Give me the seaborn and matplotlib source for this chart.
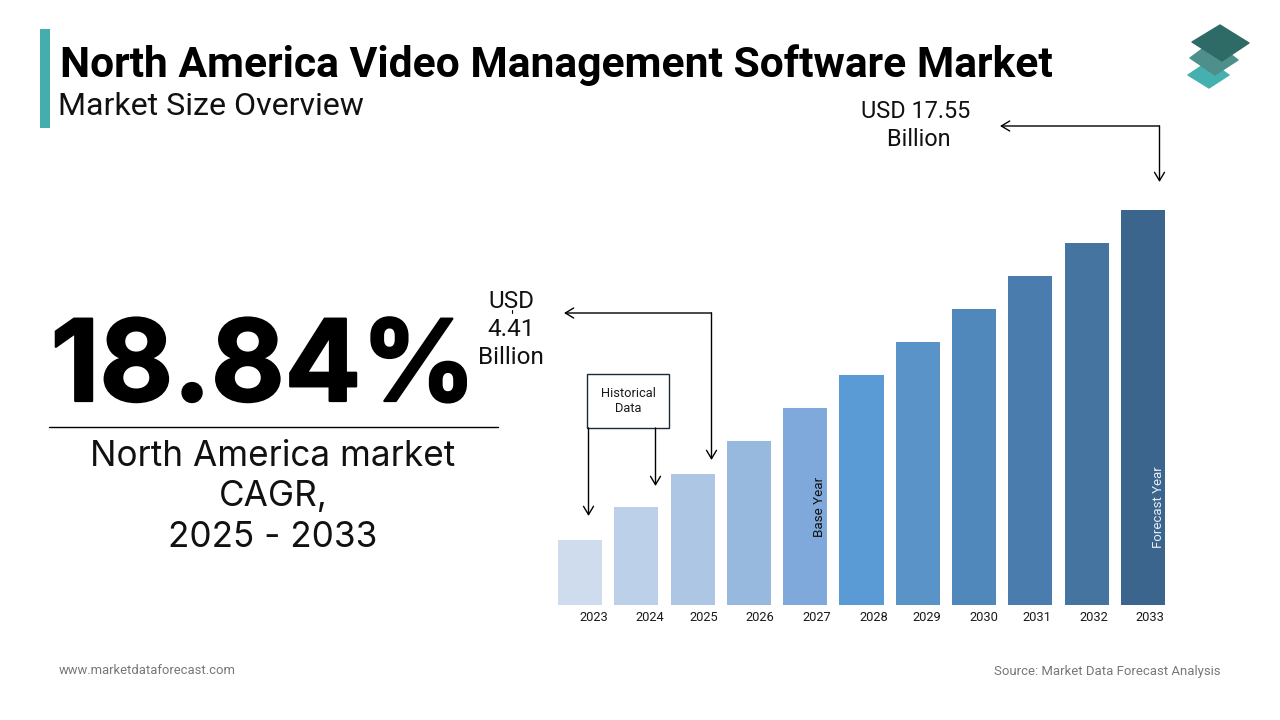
import matplotlib
matplotlib.use("Agg")
import matplotlib.pyplot as plt
import matplotlib.patheffects as pe
from matplotlib.patches import Polygon, Rectangle
from matplotlib.transforms import ScaledTranslation
import pandas as pd
import seaborn as sns

# ---- data ----
years = ["2023", "2024", "2025", "2026", "2027", "2028", "2029", "2030", "2031", "2032", "2033"]
# Bars are schematic in the source, scaled so that 2033 = 17.55
values = [2.89, 4.35, 5.82, 7.29, 8.75, 10.22, 11.69, 13.15, 14.62, 16.08, 17.55]
bar_colors = ["#CFDCEE", "#BDD0E9", "#ADC6E3", "#98B9DE", "#7FA9DA", "#5B9BD5",
              "#5A93C8", "#5088BB", "#4A7DAE", "#44749F", "#3B658D"]
title = "North America Video Management Software Market"
subtitle = "Market Size Overview"
cagr = "18.84%"
cagr_caption = "North America market\nCAGR,\n2025 - 2033"
label_start = "USD\n4.41\nBillion"
label_end = "USD 17.55\n Billion"
label_hist = "Historical\nData"
label_base = "Base Year"
label_forecast = "Forecast Year"
footer_left = "www.marketdataforecast.com"
footer_right = "Source: Market Data Forecast Analysis"
tick_shift_px = [14, 13.5, 11, 11, 12, 12.5, 9, 10, 6.5, 7, 7]

W, H = 1280, 720
sns.set_theme(style="white")
plt.rcParams["font.family"] = ["Roboto", "DejaVu Sans"]
fig = plt.figure(figsize=(W / 100, H / 100), dpi=100, facecolor="white")

# ---- bar axes ----
step = (1143 - 580) / 10
left_px = 580 - step / 2
right_px = 1143 + step / 2
ax = fig.add_axes([left_px / W, (H - 605) / H, (right_px - left_px) / W, 395 / H])
df = pd.DataFrame({"year": years, "value": values})
sns.barplot(data=df, x="year", y="value", hue="year", palette=bar_colors, legend=False,
            width=0.785, saturation=1, linewidth=0, edgecolor="none", ax=ax)
ax.set_xlim(-0.5, 10.5)
ax.set_ylim(0, 17.55)
ax.set_xlabel("")
ax.set_ylabel("")
ax.set_yticks([])
ax.patch.set_alpha(0)
sns.despine(ax=ax, left=True, bottom=True)
ax.tick_params(axis="x", length=0, pad=4, labelsize=9.3, colors="#1a1a1a")
for lab, s in zip(ax.get_xticklabels(), tick_shift_px):
    lab.set_transform(lab.get_transform() + ScaledTranslation(s / 100, 0, fig.dpi_scale_trans))

# ---- overlay in pixel coordinates ----
ov = fig.add_axes([0, 0, 1, 1], zorder=5)
ov.set_xlim(0, W)
ov.set_ylim(H, 0)
ov.axis("off")
ov.patch.set_alpha(0)

ov.add_patch(Rectangle((40, 29), 10, 99, color="#45ADAD", lw=0))
ov.text(60, 65.5, title, fontsize=30.7, fontweight="bold", color="black", va="center", ha="left")
ov.text(58, 106.5, subtitle, fontsize=23.1, color="#111111", va="center", ha="left")

# logo
for pts, c in [
    ([(1209, 61), (1229, 75), (1209, 88), (1188, 75)], "#45B0B0"),
    ([(1213, 41), (1238, 60), (1215, 75), (1190, 58)], "#4F8F8B"),
    ([(1220, 25), (1249, 43), (1222, 61), (1192, 42)], "#2F6B66"),
]:
    ov.add_patch(Polygon(pts, closed=True, facecolor=c, edgecolor=c, lw=1, joinstyle="round"))

# CAGR block
ov.text(263.5, 371, cagr, fontsize=81.5, fontweight="bold", family="Inter", color="black",
        va="center", ha="center",
        path_effects=[pe.withStroke(linewidth=1.6, foreground="black")])
ov.plot([49, 498], [427, 427], color="black", lw=1)
ov.text(273, 497, cagr_caption, fontsize=25.3, family="Inter", color="#111111",
        va="center", ha="center", linespacing=1.3)


def arrow(x0, y0, x1, y1):
    ov.annotate("", xy=(x1, y1), xytext=(x0, y0),
                arrowprops=dict(arrowstyle="->,head_length=0.5,head_width=0.3", color="black",
                                lw=1, shrinkA=0, shrinkB=0))


# callouts
ov.text(511, 329.5, label_start, fontsize=17.5, color="#111111", va="center", ha="center", linespacing=1.3)
ov.plot([511.5, 511.5], [310, 313], color="black", lw=0.8)
arrow(711.5, 313, 564, 313)
arrow(711.5, 313, 711.5, 460)

ov.text(915.5, 125.5, label_end, fontsize=16.9, color="#111111", va="center", ha="center", linespacing=1.3)
arrow(1159.5, 126, 1000, 126)
arrow(1159.5, 126, 1159.5, 182)

ov.add_patch(Rectangle((587, 374), 82, 54, facecolor="white", edgecolor="#1c2b3a", lw=1))
ov.text(628, 401, label_hist, fontsize=9.3, color="#1a1a1a", va="center", ha="center", linespacing=1.2)
arrow(588.5, 428, 588.5, 516)
arrow(655.5, 428, 655.5, 486)

ov.text(819.5, 507, label_base, fontsize=9.6, color="#111111", rotation=90, va="center", ha="center")
ov.text(1158, 507.5, label_forecast, fontsize=9.5, color="#E8EEF4", rotation=90, va="center", ha="center")

ov.text(59, 671, footer_left, fontsize=9.4, color="#777777", va="center", ha="left")
ov.text(1221, 671, footer_right, fontsize=9.45, color="#777777", va="center", ha="right")

fig.savefig("out.png", dpi=100)
